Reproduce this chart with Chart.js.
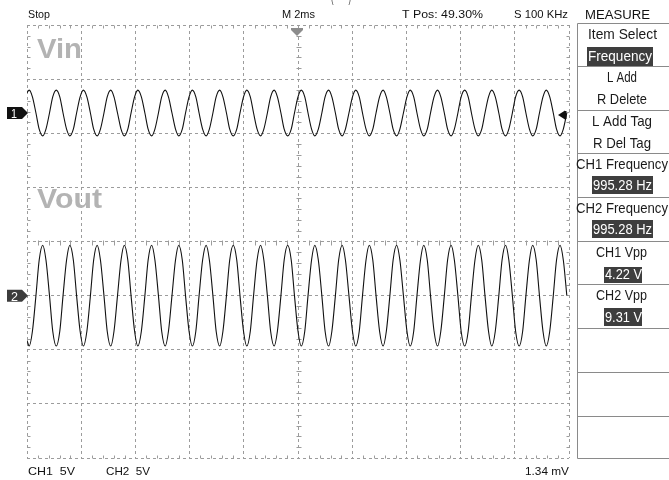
<!DOCTYPE html>
<html>
<head>
<meta charset="utf-8">
<script src="https://cdn.jsdelivr.net/npm/chart.js@4/dist/chart.umd.min.js"></script>
<style>
  html, body { margin: 0; padding: 0; background: #fff; }
  canvas { display: block; }
</style>
</head>
<body>
<canvas id="scope" width="669" height="480"></canvas>
<script>
// ---- Scope settings ----
const timePerDiv = 2;          // ms/div (M 2ms)
const voltsPerDiv = 5;         // CH1 5V, CH2 5V
const ch1Position = 2.374;     // CH1 ground, divisions above centre
const ch2Position = -1;        // CH2 ground, divisions above centre

// ---- Acquired traces: sample time (ms) and voltage (V), eight samples per cycle ----
const sampleTimes = [
  0.00,
  0.08, 0.20, 0.33, 0.45, 0.58, 0.70, 0.83, 0.95,
  1.08, 1.21, 1.33, 1.46, 1.58, 1.71, 1.83, 1.96,
  2.08, 2.21, 2.34, 2.46, 2.59, 2.71, 2.84, 2.96,
  3.09, 3.21, 3.34, 3.47, 3.59, 3.72, 3.84, 3.97,
  4.09, 4.22, 4.35, 4.47, 4.60, 4.72, 4.85, 4.97,
  5.10, 5.22, 5.35, 5.48, 5.60, 5.73, 5.85, 5.98,
  6.10, 6.23, 6.35, 6.48, 6.61, 6.73, 6.86, 6.98,
  7.11, 7.23, 7.36, 7.48, 7.61, 7.74, 7.86, 7.99,
  8.11, 8.24, 8.36, 8.49, 8.62, 8.74, 8.87, 8.99,
  9.12, 9.24, 9.37, 9.49, 9.62, 9.75, 9.87, 10.00,
  10.12, 10.25, 10.37, 10.50, 10.62, 10.75, 10.88, 11.00,
  11.13, 11.25, 11.38, 11.50, 11.63, 11.75, 11.88, 12.01,
  12.13, 12.26, 12.38, 12.51, 12.63, 12.76, 12.88, 13.01,
  13.14, 13.26, 13.39, 13.51, 13.64, 13.76, 13.89, 14.02,
  14.14, 14.27, 14.39, 14.52, 14.64, 14.77, 14.89, 15.02,
  15.15, 15.27, 15.40, 15.52, 15.65, 15.77, 15.90, 16.02,
  16.15, 16.28, 16.40, 16.53, 16.65, 16.78, 16.90, 17.03,
  17.15, 17.28, 17.41, 17.53, 17.66, 17.78, 17.91, 18.03,
  18.16, 18.29, 18.41, 18.54, 18.66, 18.79, 18.91, 19.04,
  19.16, 19.29, 19.42, 19.54, 19.67, 19.79, 19.92
];
const ch1Volts = [
  1.88,
  2.11, 1.49, 0, -1.49, -2.11, -1.49, 0, 1.49,
  2.11, 1.49, 0, -1.49, -2.11, -1.49, 0, 1.49,
  2.11, 1.49, 0, -1.49, -2.11, -1.49, 0, 1.49,
  2.11, 1.49, 0, -1.49, -2.11, -1.49, 0, 1.49,
  2.11, 1.49, 0, -1.49, -2.11, -1.49, 0, 1.49,
  2.11, 1.49, 0, -1.49, -2.11, -1.49, 0, 1.49,
  2.11, 1.49, 0, -1.49, -2.11, -1.49, 0, 1.49,
  2.11, 1.49, 0, -1.49, -2.11, -1.49, 0, 1.49,
  2.11, 1.49, 0, -1.49, -2.11, -1.49, 0, 1.49,
  2.11, 1.49, 0, -1.49, -2.11, -1.49, 0, 1.49,
  2.11, 1.49, 0, -1.49, -2.11, -1.49, 0, 1.49,
  2.11, 1.49, 0, -1.49, -2.11, -1.49, 0, 1.49,
  2.11, 1.49, 0, -1.49, -2.11, -1.49, 0, 1.49,
  2.11, 1.49, 0, -1.49, -2.11, -1.49, 0, 1.49,
  2.11, 1.49, 0, -1.49, -2.11, -1.49, 0, 1.49,
  2.11, 1.49, 0, -1.49, -2.11, -1.49, 0, 1.49,
  2.11, 1.49, 0, -1.49, -2.11, -1.49, 0, 1.49,
  2.11, 1.49, 0, -1.49, -2.11, -1.49, 0, 1.49,
  2.11, 1.49, 0, -1.49, -2.11, -1.49, 0, 1.49,
  2.11, 1.49, 0, -1.49, -2.11, -1.49, 0
];
const ch2Volts = [
  -4.15,
  -4.655, -3.29, 0, 3.29, 4.655, 3.29, 0, -3.29,
  -4.655, -3.29, 0, 3.29, 4.655, 3.29, 0, -3.29,
  -4.655, -3.29, 0, 3.29, 4.655, 3.29, 0, -3.29,
  -4.655, -3.29, 0, 3.29, 4.655, 3.29, 0, -3.29,
  -4.655, -3.29, 0, 3.29, 4.655, 3.29, 0, -3.29,
  -4.655, -3.29, 0, 3.29, 4.655, 3.29, 0, -3.29,
  -4.655, -3.29, 0, 3.29, 4.655, 3.29, 0, -3.29,
  -4.655, -3.29, 0, 3.29, 4.655, 3.29, 0, -3.29,
  -4.655, -3.29, 0, 3.29, 4.655, 3.29, 0, -3.29,
  -4.655, -3.29, 0, 3.29, 4.655, 3.29, 0, -3.29,
  -4.655, -3.29, 0, 3.29, 4.655, 3.29, 0, -3.29,
  -4.655, -3.29, 0, 3.29, 4.655, 3.29, 0, -3.29,
  -4.655, -3.29, 0, 3.29, 4.655, 3.29, 0, -3.29,
  -4.655, -3.29, 0, 3.29, 4.655, 3.29, 0, -3.29,
  -4.655, -3.29, 0, 3.29, 4.655, 3.29, 0, -3.29,
  -4.655, -3.29, 0, 3.29, 4.655, 3.29, 0, -3.29,
  -4.655, -3.29, 0, 3.29, 4.655, 3.29, 0, -3.29,
  -4.655, -3.29, 0, 3.29, 4.655, 3.29, 0, -3.29,
  -4.655, -3.29, 0, 3.29, 4.655, 3.29, 0, -3.29,
  -4.655, -3.29, 0, 3.29, 4.655, 3.29, 0
];

// ---- Readouts ----
const statusTexts = ['Stop', 'M 2ms', 'T Pos: 49.30%', 'S 100 KHz', 'MEASURE'];
const footerTexts = ['CH1  5V', 'CH2  5V', '1.34 mV'];
const menuTitles  = ['Item Select', 'L Add', 'L Add Tag', 'CH1 Frequency', 'CH2 Frequency', 'CH1 Vpp', 'CH2 Vpp'];
const menuValues  = ['Frequency', 'R Delete', 'R Del Tag', '995.28 Hz', '995.28 Hz', '4.22 V', '9.31 V'];
const traceNames  = ['Vin', 'Vout'];

// ---- Drawing ----
const GRID = '#9c9c9c';
const FONT = '"Liberation Sans", Arial, sans-serif';

function fitText(ctx, str, left, baseline, width, size, color, weight) {
  ctx.save();
  ctx.font = (weight || 'normal') + ' ' + size + 'px ' + FONT;
  ctx.fillStyle = color;
  ctx.textAlign = 'left';
  ctx.textBaseline = 'alphabetic';
  const w = ctx.measureText(str).width;
  ctx.translate(left, baseline);
  ctx.scale(width / w, 1);
  ctx.fillText(str, 0, 0);
  ctx.restore();
}

function poly(ctx, pts, fill) {
  ctx.beginPath();
  ctx.moveTo(pts[0][0], pts[0][1]);
  for (let i = 1; i < pts.length; i++) ctx.lineTo(pts[i][0], pts[i][1]);
  ctx.closePath();
  ctx.fillStyle = fill;
  ctx.fill();
}

const graticuleTicks = {
  id: 'graticuleTicks',
  beforeDatasetsDraw(chart) {
    const { ctx } = chart;
    const xs = chart.scales.x, ys = chart.scales.y;
    const T = Math.round(ys.getPixelForValue(4)) + 0.5;
    const B = Math.round(ys.getPixelForValue(-4)) + 0.5;
    const L = Math.round(xs.getPixelForValue(0)) + 0.5;
    const R = Math.round(xs.getPixelForValue(20)) + 0.5;
    const cx = Math.round(xs.getPixelForValue(10)) + 0.5;
    const cy = Math.round(ys.getPixelForValue(0)) + 0.5;
    ctx.save();
    ctx.strokeStyle = GRID;
    ctx.lineWidth = 1;
    ctx.beginPath();
    for (let i = 1; i < 50; i++) {
      if (i % 5 === 0) continue;
      const px = Math.round(xs.getPixelForValue(i * timePerDiv / 5)) + 0.5;
      ctx.moveTo(px, T); ctx.lineTo(px, T + 3);
      ctx.moveTo(px, B); ctx.lineTo(px, B - 3);
      ctx.moveTo(px, cy - 2); ctx.lineTo(px, cy + 3);
    }
    for (let i = 1; i < 40; i++) {
      if (i % 5 === 0) continue;
      const py = Math.round(ys.getPixelForValue(-4 + i / 5)) + 0.5;
      ctx.moveTo(L, py); ctx.lineTo(L + 3, py);
      ctx.moveTo(R, py); ctx.lineTo(R - 3, py);
      ctx.moveTo(cx - 2, py); ctx.lineTo(cx + 3, py);
    }
    ctx.stroke();
    ctx.restore();
  },
  afterDraw(chart) {
    const { ctx } = chart;
    const y1 = chart.scales.yCh1, y2 = chart.scales.yCh2;
    const cx = Math.round(chart.scales.x.getPixelForValue(10));
    ctx.save();

    // trace captions
    fitText(ctx, traceNames[0], 37, 58, 45, 28, '#b3b3b3', 'bold');
    fitText(ctx, traceNames[1], 37, 208, 65, 28, '#b3b3b3', 'bold');

    // channel ground markers
    const g1 = y1.getPixelForValue(0), g2 = y2.getPixelForValue(0);
    poly(ctx, [[7, g1 - 6], [22, g1 - 6], [28, g1], [22, g1 + 6], [7, g1 + 6]], '#111');
    poly(ctx, [[7, g2 - 6], [22, g2 - 6], [28, g2], [22, g2 + 6], [7, g2 + 6]], '#3c3c3c');
    fitText(ctx, '1', 11, g1 + 5, 6, 12, '#fff');
    fitText(ctx, '2', 11, g2 + 5, 7, 12, '#fff');

    // trigger position and level markers
    poly(ctx, [[cx - 7, 28], [cx + 5, 28], [cx + 5, 30], [cx - 1, 36], [cx - 7, 30]], '#8c8c8c');
    const tl = g1 + 2;
    poly(ctx, [[558, tl], [565, tl - 4.5], [565, tl + 4.5]], '#111');
    ctx.fillStyle = '#111';
    ctx.fillRect(565, tl - 4, 1.5, 8);

    // status line
    fitText(ctx, statusTexts[0], 28, 18, 22, 11, '#111');
    fitText(ctx, statusTexts[1], 282, 18, 33, 11, '#111');
    fitText(ctx, statusTexts[2], 402, 18, 81, 11, '#111');
    fitText(ctx, statusTexts[3], 514, 18, 54, 11, '#111');
    fitText(ctx, statusTexts[4], 585, 19, 65, 12, '#111');
    fitText(ctx, '(       )', 331, 2, 20, 14, '#444');

    // footer
    fitText(ctx, footerTexts[0], 28, 475, 47, 11, '#111');
    fitText(ctx, footerTexts[1], 106, 475, 44, 11, '#111');
    fitText(ctx, footerTexts[2], 525, 475, 44, 11, '#111');

    // measure menu frame
    ctx.strokeStyle = '#8a8a8a';
    ctx.lineWidth = 1;
    ctx.beginPath();
    ctx.moveTo(577.5, 23.5); ctx.lineTo(577.5, 458.5);
    [23.5, 66.5, 110.5, 153.5, 197.5, 241.5, 284.5, 328.5, 372.5, 416.5, 458.5].forEach(yy => {
      ctx.moveTo(577.5, yy); ctx.lineTo(669, yy);
    });
    ctx.stroke();

    // menu entries
    const titleLayout = [[588, 39, 69], [607, 82, 30], [592, 126, 60], [576, 169, 92], [576, 213, 92], [596, 257, 51], [596, 300, 51]];
    const valueLayout = [[588, 61, 64], [597, 104, 50], [593, 148, 58], [593, 190, 59], [593, 234, 59], [605, 279, 37], [605, 322, 37]];
    const valueBoxes  = [[587, 47, 66, 19], null, null, [592, 176, 61, 18], [592, 220, 61, 18], [604, 267, 38, 16], [604, 308, 38, 18]];
    menuTitles.forEach((t, i) => {
      const [lx, by, w] = titleLayout[i];
      fitText(ctx, t, lx, by, w, 15, '#1a1a1a');
    });
    menuValues.forEach((t, i) => {
      const [lx, by, w] = valueLayout[i];
      const box = valueBoxes[i];
      if (box) {
        ctx.fillStyle = '#3e3e3e';
        ctx.fillRect(box[0], box[1], box[2], box[3]);
      }
      fitText(ctx, t, lx, by, w, 15, box ? '#fff' : '#1a1a1a');
    });
    ctx.restore();
  }
};

const ch1Points = sampleTimes.map((t, i) => ({ x: t, y: ch1Volts[i] }));
const ch2Points = sampleTimes.map((t, i) => ({ x: t, y: ch2Volts[i] }));

const gridAxis = {
  grid: { color: GRID, lineWidth: 1, drawTicks: false },
  border: { display: false, dash: [3, 3] }
};

new Chart(document.getElementById('scope'), {
  type: 'line',
  data: {
    datasets: [
      { label: 'CH1', data: ch1Points, yAxisID: 'yCh1', borderColor: '#111', borderWidth: 1.1,
        pointRadius: 0, cubicInterpolationMode: 'monotone', fill: false },
      { label: 'CH2', data: ch2Points, yAxisID: 'yCh2', borderColor: '#111', borderWidth: 1.1,
        pointRadius: 0, cubicInterpolationMode: 'monotone', fill: false }
    ]
  },
  options: {
    responsive: false,
    animation: false,
    devicePixelRatio: 1,
    layout: { padding: { left: 27, top: 25, right: 100, bottom: 22 } },
    plugins: { legend: { display: false }, tooltip: { enabled: false } },
    scales: {
      x: Object.assign({ type: 'linear', min: 0, max: 10 * timePerDiv,
        ticks: { display: false, stepSize: timePerDiv } }, gridAxis),
      y: Object.assign({ type: 'linear', min: -4, max: 4,
        ticks: { display: false, stepSize: 1 } }, gridAxis),
      yCh1: { type: 'linear', display: false,
        min: (-4 - ch1Position) * voltsPerDiv, max: (4 - ch1Position) * voltsPerDiv },
      yCh2: { type: 'linear', display: false,
        min: (-4 - ch2Position) * voltsPerDiv, max: (4 - ch2Position) * voltsPerDiv }
    }
  },
  plugins: [graticuleTicks]
});
</script>
</body>
</html>
